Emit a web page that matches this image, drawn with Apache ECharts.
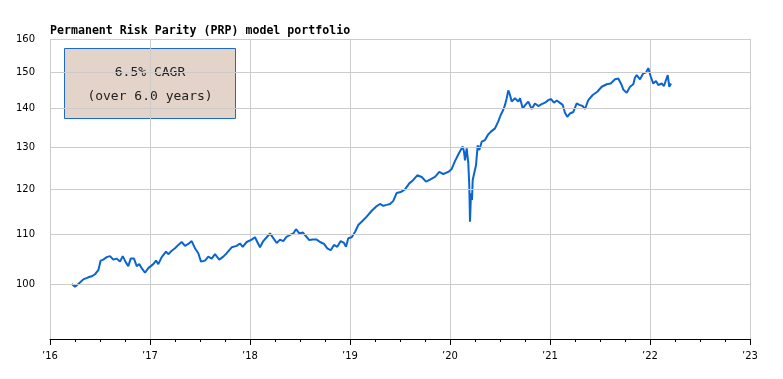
<!DOCTYPE html>
<html>
<head>
<meta charset="utf-8">
<script src="https://cdn.jsdelivr.net/npm/echarts@6/dist/echarts.min.js"></script>
<style>
html,body{margin:0;padding:0;background:#fff;}
#chart{width:783px;height:379px;}
</style>
</head>
<body>
<div id="chart"></div>
<script>
// Time as decimal years
var dates = [2016.217,2016.25,2016.30,2016.333,2016.383,2016.417,2016.45,2016.483,2016.507,2016.533,2016.567,2016.60,2016.633,2016.667,2016.70,2016.727,2016.76,2016.783,2016.807,2016.84,2016.867,2016.893,2016.917,2016.95,2016.983,
2017.033,2017.06,2017.083,2017.117,2017.16,2017.183,2017.217,2017.25,2017.283,2017.317,2017.35,2017.383,2017.417,2017.45,2017.483,2017.51,2017.55,2017.583,2017.617,2017.65,2017.693,2017.733,2017.767,2017.817,2017.867,2017.90,2017.927,2017.967,
2018.017,2018.05,2018.073,2018.10,2018.133,2018.167,2018.20,2018.233,2018.267,2018.30,2018.333,2018.367,2018.40,2018.433,2018.46,2018.493,2018.527,2018.56,2018.593,2018.627,2018.667,2018.70,2018.74,2018.773,2018.807,2018.84,2018.873,2018.907,2018.94,2018.96,2018.983,
2019.017,2019.05,2019.083,2019.127,2019.167,2019.217,2019.26,2019.30,2019.333,2019.367,2019.40,2019.433,2019.467,2019.507,2019.55,2019.593,2019.633,2019.673,2019.717,2019.76,2019.80,2019.85,2019.893,2019.933,2019.983,
2020.017,2020.05,2020.083,2020.107,2020.127,2020.14,2020.15,2020.167,2020.183,2020.193,2020.20,2020.21,2020.22,2020.227,2020.243,2020.26,2020.277,2020.293,2020.317,2020.35,2020.383,2020.407,2020.427,2020.45,2020.483,2020.507,2020.533,2020.55,2020.567,2020.583,2020.60,2020.617,2020.65,2020.683,2020.70,2020.727,2020.76,2020.783,2020.817,2020.85,2020.883,2020.917,2020.95,2020.983,
2021.01,2021.04,2021.067,2021.093,2021.127,2021.15,2021.173,2021.20,2021.233,2021.267,2021.293,2021.327,2021.35,2021.383,2021.427,2021.473,2021.517,2021.567,2021.607,2021.65,2021.683,2021.717,2021.733,2021.75,2021.767,2021.80,2021.833,2021.85,2021.867,2021.90,2021.933,2021.96,2021.983,
2022.007,2022.033,2022.06,2022.083,2022.117,2022.14,2022.16,2022.177,2022.193,2022.21];

var values = [100.0,99.5,100.3,100.9,101.3,101.5,101.9,102.7,104.6,104.8,105.3,105.5,104.8,105.0,104.4,105.5,104.2,103.5,105.0,105.0,103.5,103.9,103.1,102.2,103.1,
103.9,104.6,103.9,105.3,106.4,105.9,106.6,107.1,107.8,108.4,107.6,108.0,108.6,107.1,106.1,104.4,104.6,105.4,105.0,105.9,104.8,105.4,106.1,107.3,107.6,108.1,107.4,108.4,
108.9,109.4,108.4,107.3,108.6,109.4,110.2,109.2,108.2,108.9,108.6,109.5,109.9,110.2,111.1,110.2,110.4,109.6,108.8,108.9,108.9,108.4,108.0,107.1,106.7,107.8,107.4,108.6,108.2,107.4,109.2,
109.4,110.5,112.0,112.9,113.8,115.1,116.0,116.6,116.2,116.4,116.6,117.3,119.1,119.3,119.9,121.3,122.1,123.2,122.8,121.7,122.2,122.8,124.0,123.5,124.0,
124.7,126.6,128.2,129.3,130.2,128.9,126.8,129.7,126.1,120.6,112.7,119.0,117.5,122.1,122.5,125.6,130.5,129.3,131.4,131.8,133.3,133.9,133.5,134.8,136.6,138.3,139.7,141.0,142.8,145.0,143.7,141.9,142.8,141.9,142.8,140.1,141.2,141.9,139.9,141.4,140.7,141.2,141.6,142.3,
142.6,141.6,142.2,141.7,141.0,138.9,137.8,138.7,139.1,141.4,141.0,140.7,139.9,142.3,143.7,144.6,146.0,146.7,146.9,148.1,148.3,146.5,145.2,144.9,144.3,146.0,146.7,148.6,149.3,148.1,149.8,150.0,151.3,
148.9,146.9,147.6,146.5,146.9,146.2,147.9,149.3,146.0,146.9];

var yTicks = [100,110,120,130,140,150,160];
var xTickYears = [2016,2017,2018,2019,2020,2021,2022,2023];
var titleText = 'Permanent Risk Parity (PRP) model portfolio';
var boxLines = ['6.5% CAGR', '(over 6.0 years)'];

var seriesData = dates.map(function (d, i) { return [d, values[i]]; });

var chart = echarts.init(document.getElementById('chart'), null, {renderer: 'canvas'});
chart.setOption({
  animation: false,
  backgroundColor: '#ffffff',
  title: {
    text: titleText,
    left: 50, top: 25, padding: 0,
    textStyle: {fontFamily: 'DejaVu Sans Mono', fontSize: 11.6, fontWeight: 'bold', color: '#000'}
  },
  grid: {left: 50, right: 33, top: 39, bottom: 40},
  xAxis: {
    type: 'value',
    min: xTickYears[0], max: xTickYears[xTickYears.length - 1], interval: 1,
    axisLine: {show: true, lineStyle: {color: '#000', width: 1}},
    axisTick: {show: true, length: 6, lineStyle: {color: '#000'}},
    minorTick: {show: true, splitNumber: 4, length: 3, lineStyle: {color: '#000'}},
    splitLine: {show: true, lineStyle: {color: '#cccccc', width: 1}},
    axisLabel: {
      formatter: function (v) { return '\u2019' + String(v).slice(2); },
      fontFamily: 'DejaVu Sans', fontSize: 10, color: '#000', margin: 12
    }
  },
  yAxis: {
    type: 'log', logBase: 10, min: 90, max: 160,
    axisLine: {show: false}, axisTick: {show: false},
    axisLabel: {show: false}, splitLine: {show: false}
  },
  series: [
    {
      type: 'line', z: 1, silent: true,
      data: [[dates[0], values[0]]],
      showSymbol: false, symbol: 'none',
      lineStyle: {width: 0, opacity: 0},
      markLine: {
        silent: true, symbol: 'none', animation: false,
        lineStyle: {color: '#cccccc', type: 'solid', width: 1},
        label: {
          position: 'start', distance: 15, color: '#000',
          fontFamily: 'DejaVu Sans', fontSize: 10,
          formatter: function (p) { return String(Math.round(p.value)); }
        },
        emphasis: {disabled: true},
        data: yTicks.map(function (t) { return {yAxis: t}; })
      }
    },
    {
      type: 'line', z: 3,
      data: seriesData,
      showSymbol: false, symbol: 'none',
      lineStyle: {color: '#0b65d1', width: 2},
      itemStyle: {color: '#0b65d1'}
    }
  ],
  graphic: [
    {
      type: 'group', left: 64, top: 48,
      children: [
        {type: 'rect', shape: {x: 0, y: 0, width: 171, height: 70},
         style: {fill: '#e4d3c8', stroke: '#1a6bd0', lineWidth: 1}},
        {type: 'text', x: 85.5, y: 24,
         style: {text: boxLines[0], fill: '#222', font: '13px "DejaVu Sans Mono"', textAlign: 'center', textVerticalAlign: 'middle'}},
        {type: 'text', x: 85.5, y: 48.5,
         style: {text: boxLines[1], fill: '#222', font: '13px "DejaVu Sans Mono"', textAlign: 'center', textVerticalAlign: 'middle'}}
      ]
    }
  ]
});
</script>
</body>
</html>
